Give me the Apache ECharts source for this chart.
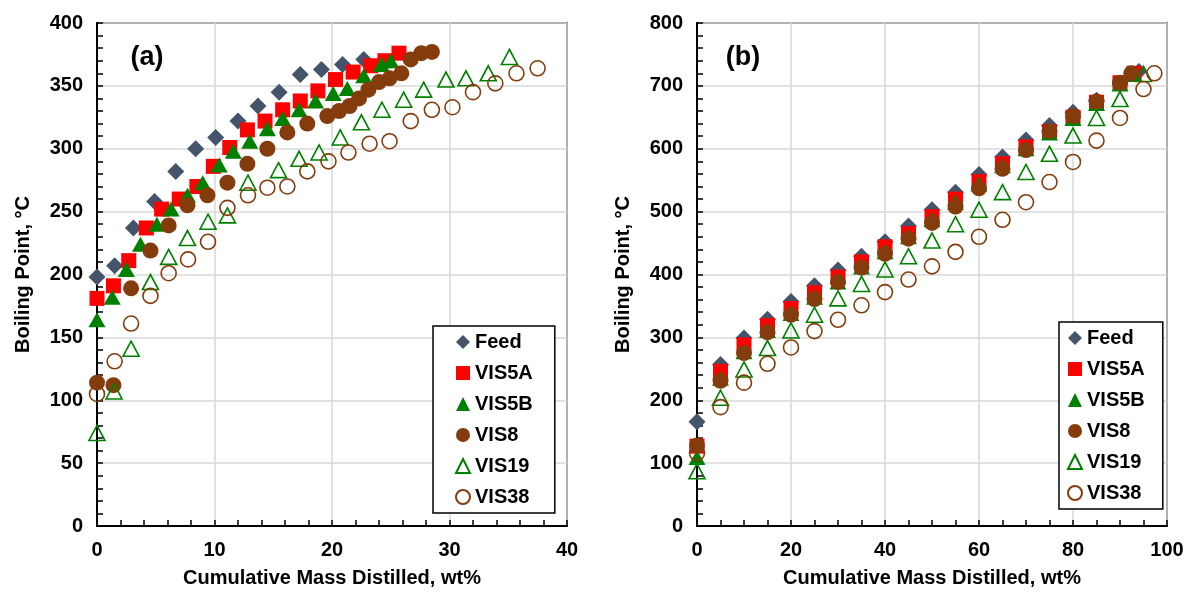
<!DOCTYPE html>
<html><head><meta charset="utf-8">
<script src="https://cdn.jsdelivr.net/npm/echarts/dist/echarts.min.js"></script>
<style>html,body{margin:0;padding:0;background:#fff}#c{width:1189px;height:593px}</style>
</head><body><div id="c"></div>
<script>
// ---------- Panel (a) data ----------
const feedA_x = [0, 1.5, 3.1, 4.9, 6.7, 8.4, 10.1, 12.0, 13.7, 15.5, 17.3, 19.1, 20.9, 22.7];
const feedA_y = [198, 207, 237, 258, 282, 300, 309, 322, 334, 345, 359, 363, 367, 371];
const vis5aA_x = [0, 1.4, 2.7, 4.2, 5.5, 7.0, 8.5, 9.9, 11.3, 12.8, 14.3, 15.8, 17.3, 18.8, 20.3, 21.8, 23.3, 24.5, 25.7];
const vis5aA_y = [181, 191, 211, 237, 252, 260, 270, 286, 301, 315, 322, 331, 338, 346, 355, 361, 366, 370, 376];
const vis5bA_x = [0, 1.3, 2.5, 3.7, 5.1, 6.3, 7.7, 9.0, 10.4, 11.6, 13.0, 14.5, 15.8, 17.2, 18.6, 20.1, 21.3, 22.7, 24.2, 25.0];
const vis5bA_y = [164, 182, 204, 224, 240, 252, 263, 273, 287, 298, 306, 316, 324, 331, 338, 344, 348, 358, 367, 370];
const vis8A_x = [0, 1.4, 2.9, 4.55, 6.1, 7.7, 9.4, 11.1, 12.8, 14.5, 16.2, 17.9, 19.6, 20.6, 21.5, 22.3, 23.1, 24.0, 24.9, 25.9, 26.7, 27.6, 28.5];
const vis8A_y = [114, 112, 189, 219, 239, 255, 263, 273, 288, 300, 313, 320, 326, 330, 334, 340, 347, 353, 356, 360, 371, 376, 377];
const vis19A_x = [0, 1.45, 2.9, 4.55, 6.1, 7.7, 9.45, 11.1, 12.85, 15.45, 17.2, 18.9, 20.7, 22.5, 24.25, 26.1, 27.8, 29.7, 31.4, 33.3, 35.1];
const vis19A_y = [74, 107, 141, 194, 214, 229, 242, 247, 273, 283, 292, 297, 309, 321, 331, 339, 347, 355, 356, 360, 373];
const vis38A_x = [0, 1.5, 2.9, 4.55, 6.1, 7.75, 9.45, 11.1, 12.85, 14.5, 16.2, 17.9, 19.7, 21.4, 23.2, 24.9, 26.7, 28.5, 30.25, 32.0, 33.9, 35.7, 37.5];
const vis38A_y = [105, 131, 161, 183, 201, 212, 226, 253, 263, 269, 270, 282, 290, 297, 304, 306, 322, 331, 333, 345, 352, 360, 364];

// ---------- Panel (b) data ----------
const feedB_x = [0, 5, 10, 15, 20, 25, 30, 35, 40, 45, 50, 55, 60, 65, 70, 75, 80, 85, 90, 94];
const feedB_y = [166, 257, 299, 329, 357, 382, 407, 429, 452, 477, 503, 531, 559, 587, 614, 637, 658, 677, 703, 723];
const vis5aB_x = [0, 5, 10, 15, 20, 25, 30, 35, 40, 45, 50, 55, 60, 65, 70, 75, 80, 85, 90, 93];
const vis5aB_y = [127, 246, 288, 319, 346, 371, 396, 420, 444, 465, 492, 520, 548, 576, 603, 627, 650, 674, 705, 720];
const vis5bB_x = [0, 5, 10, 15, 20, 25, 30, 35, 40, 45, 50, 55, 60, 65, 70, 75, 80, 85, 90, 93];
const vis5bB_y = [109, 235, 277, 311, 338, 364, 388, 412, 436, 460, 487, 515, 544, 573, 600, 625, 648, 672, 703, 718];
const vis8B_x = [0, 5, 10, 15, 20, 25, 30, 35, 40, 45, 50, 55, 60, 65, 70, 75, 80, 85, 90, 92.4];
const vis8B_y = [128, 231, 275, 308, 336, 361, 388, 411, 433, 457, 482, 508, 537, 568, 598, 628, 652, 675, 705, 720];
const vis19B_x = [0, 5, 10, 15, 20, 25, 30, 35, 40, 45, 50, 55, 60, 65, 70, 75, 80, 85, 90, 95];
const vis19B_y = [87, 204, 249, 283, 311, 336, 362, 385, 408, 429, 454, 480, 503, 531, 563, 592, 621, 649, 679, 719];
const vis38B_x = [0, 5, 10, 15, 20, 25, 30, 35, 40, 45, 50, 55, 60, 65, 70, 75, 80, 85, 90, 95, 97.3];
const vis38B_y = [116, 189, 228, 258, 284, 310, 328, 351, 372, 392, 413, 436, 460, 487, 515, 547, 579, 613, 649, 695, 720];

const seriesNames = ['Feed', 'VIS5A', 'VIS5B', 'VIS8', 'VIS19', 'VIS38'];
const xTicksA = [0, 10, 20, 30, 40];
const yTicksA = [0, 50, 100, 150, 200, 250, 300, 350, 400];
const xTicksB = [0, 20, 40, 60, 80, 100];
const yTicksB = [0, 100, 200, 300, 400, 500, 600, 700, 800];
const xTitle = 'Cumulative Mass Distilled, wt%';
const yTitle = 'Boiling Point, °C';

const FONT = '"Liberation Sans", Arial, sans-serif';
const styles = {
  'Feed':  {symbol: 'diamond', symbolSize: [17, 17], itemStyle: {color: '#44546A', opacity: 1}},
  'VIS5A': {symbol: 'rect', symbolSize: 15, itemStyle: {color: '#FF0000', opacity: 1}},
  'VIS5B': {symbol: 'triangle', symbolSize: [17, 15], itemStyle: {color: '#008000', opacity: 1}},
  'VIS8':  {symbol: 'circle', symbolSize: 16, itemStyle: {color: '#843C0C', opacity: 1}},
  'VIS19': {symbol: 'triangle', symbolSize: [16, 15], itemStyle: {color: 'rgba(255,255,255,0)', borderColor: '#008000', borderWidth: 1.6, opacity: 1}},
  'VIS38': {symbol: 'circle', symbolSize: 15, itemStyle: {color: 'rgba(255,255,255,0)', borderColor: '#843C0C', borderWidth: 1.6, opacity: 1}}
};
const panelA = [[feedA_x, feedA_y], [vis5aA_x, vis5aA_y], [vis5bA_x, vis5bA_y], [vis8A_x, vis8A_y], [vis19A_x, vis19A_y], [vis38A_x, vis38A_y]];
const panelB = [[feedB_x, feedB_y], [vis5aB_x, vis5aB_y], [vis5bB_x, vis5bB_y], [vis8B_x, vis8B_y], [vis19B_x, vis19B_y], [vis38B_x, vis38B_y]];

function pairs(xs, ys) { return xs.map((x, i) => [x, ys[i]]); }

const series = [];
[panelA, panelB].forEach((panel, gi) => {
  panel.forEach((d, si) => {
    const nm = seriesNames[si];
    series.push(Object.assign({
      type: 'scatter', name: nm, xAxisIndex: gi, yAxisIndex: gi,
      data: pairs(d[0], d[1]), z: 2 + si * 0.1, emphasis: {disabled: true}
    }, JSON.parse(JSON.stringify(styles[nm]))));
  });
});

function axisCommon(extra) {
  return Object.assign({
    type: 'value',
    axisLine: {show: true, onZero: false, lineStyle: {color: '#000', width: 2}},
    axisTick: {show: true, inside: true, length: 6, lineStyle: {color: '#000', width: 1.5}},
    minorTick: {show: true, splitNumber: 5, length: 6, lineStyle: {color: '#000', width: 1.5}},
    splitLine: {show: true, lineStyle: {color: '#D9D9D9', width: 1.5}},
    axisLabel: {fontFamily: FONT, fontWeight: 'bold', fontSize: 20, color: '#000'},
    nameLocation: 'middle',
    nameTextStyle: {fontFamily: FONT, fontWeight: 'bold', fontSize: 20, color: '#000'}
  }, extra);
}

const legendCommon = {
  orient: 'vertical', selectedMode: false, data: seriesNames,
  itemWidth: 14, itemHeight: 14, itemGap: 9,
  borderColor: '#000', borderWidth: 1.5, backgroundColor: '#fff', borderRadius: 0,
  textStyle: {fontFamily: FONT, fontWeight: 'bold', fontSize: 20, color: '#000', lineHeight: 22}
};

const option = {
  animation: false,
  backgroundColor: '#fff',
  grid: [
    {left: 97, top: 23, width: 470, height: 506, show: true, borderColor: '#000', borderWidth: 1.5, backgroundColor: 'transparent'},
    {left: 697, top: 23, width: 470, height: 506, show: true, borderColor: '#000', borderWidth: 1.5, backgroundColor: 'transparent'}
  ],
  xAxis: [
    axisCommon({gridIndex: 0, min: xTicksA[0], max: xTicksA[xTicksA.length - 1], interval: xTicksA[1] - xTicksA[0], name: xTitle, nameGap: 42,
      axisLabel: {fontFamily: FONT, fontWeight: 'bold', fontSize: 20, color: '#000', margin: 14}}),
    axisCommon({gridIndex: 1, min: xTicksB[0], max: xTicksB[xTicksB.length - 1], interval: xTicksB[1] - xTicksB[0], name: xTitle, nameGap: 42,
      minorTick: {show: true, splitNumber: 4, length: 6, lineStyle: {color: '#000', width: 1.5}},
      axisLabel: {fontFamily: FONT, fontWeight: 'bold', fontSize: 20, color: '#000', margin: 14}})
  ],
  yAxis: [
    axisCommon({gridIndex: 0, min: yTicksA[0], max: yTicksA[yTicksA.length - 1], interval: yTicksA[1] - yTicksA[0], name: yTitle, nameGap: 64,
      axisLabel: {fontFamily: FONT, fontWeight: 'bold', fontSize: 20, color: '#000', margin: 14}}),
    axisCommon({gridIndex: 1, min: yTicksB[0], max: yTicksB[yTicksB.length - 1], interval: yTicksB[1] - yTicksB[0], name: yTitle, nameGap: 64,
      axisLabel: {fontFamily: FONT, fontWeight: 'bold', fontSize: 20, color: '#000', margin: 14}})
  ],
  legend: [
    Object.assign({}, legendCommon, {left: 433, top: 326, padding: [5, 22, 5, 22]}),
    Object.assign({}, legendCommon, {left: 1059, top: 322, padding: [5, 18, 5, 8]})
  ],
  graphic: [
    {type: 'text', x: 147, y: 58, z: 10, style: {text: '(a)', font: 'bold 27px ' + FONT, fill: '#000', align: 'center', verticalAlign: 'middle', textAlign: 'center', textVerticalAlign: 'middle'}},
    {type: 'text', x: 743, y: 58, z: 10, style: {text: '(b)', font: 'bold 27px ' + FONT, fill: '#000', align: 'center', verticalAlign: 'middle', textAlign: 'center', textVerticalAlign: 'middle'}}
  ],
  series: series
};

const chart = echarts.init(document.getElementById('c'), null, {renderer: 'canvas'});
chart.setOption(option);
</script></body></html>
